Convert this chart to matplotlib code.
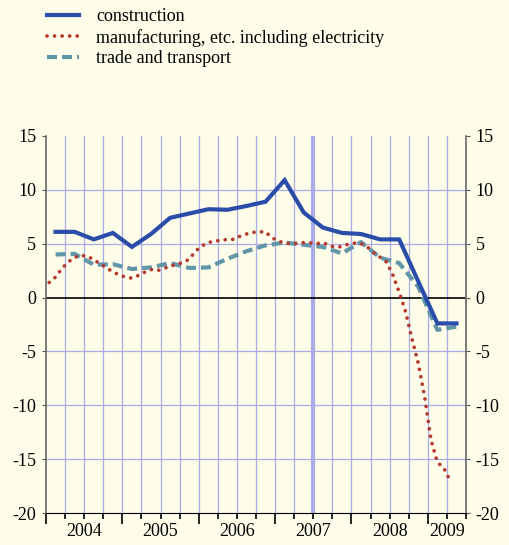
import numpy as np
import matplotlib
matplotlib.use('Agg')
import matplotlib.pyplot as plt
import matplotlib.transforms as mtransforms

plt.rcParams['font.family'] = ['Liberation Serif', 'DejaVu Serif']
plt.rcParams['axes.unicode_minus'] = False

# quarterly series, 2004Q1 .. 2009Q2
construction = [6.1, 6.1, 5.4, 6.0, 4.7, 5.9, 7.4, 7.8, 8.2, 8.15, 8.5, 8.9,
                10.9, 7.9, 6.5, 6.0, 5.9, 5.4, 5.4, 1.5, -2.4, -2.4]
trade = [4.0, 4.05, 3.05, 3.1, 2.65, 2.8, 3.2, 2.75, 2.8, 3.6, 4.3, 4.85,
         5.1, 4.9, 4.7, 4.1, 5.15, 3.7, 3.2, 1.0, -3.0, -2.7]
# monthly series, Jan 2004 .. Apr 2009
manufacturing = [1.4, 1.9, 2.7, 3.3, 3.75, 3.9, 3.85, 3.5, 3.15, 2.75, 2.4, 2.1,
                 1.9, 1.8, 2.05, 2.35, 2.6, 2.5, 2.7, 2.9, 3.1, 3.25, 3.55, 4.3,
                 4.8, 5.1, 5.25, 5.3, 5.4, 5.4, 5.7, 5.9, 6.05, 6.1, 6.1, 5.55,
                 5.25, 5.05, 5.0, 5.05, 5.1, 5.08, 5.0, 5.1, 4.85, 4.65, 4.75, 4.95,
                 5.05, 5.0, 4.7, 4.15, 3.75, 3.3, 2.1, 0.5, -1.3, -3.8, -6.1, -9.2,
                 -13.2, -15.3, -15.8, -17.0]
years = ['2004', '2005', '2006', '2007', '2008', '2009']
year_centers = [2, 6, 10, 14, 18, 21]

bg = '#fefdea'
grid_c = '#a9abe6'

fig = plt.figure(figsize=(5.09, 5.45), dpi=100, facecolor=bg)
ax = fig.add_axes([0.0904, 0.0587, 0.8251, 0.6918], facecolor=bg)

xq = np.arange(len(construction)) + 0.5
xm = (np.arange(len(manufacturing)) + 0.5) / 3.0

# grid
for q in range(1, 22):
    ax.axvline(q, color=grid_c, lw=3.0 if q == 14 else 0.9, zorder=1)
for v in [10, 5, -5, -10, -15]:
    ax.axhline(v, color=grid_c, lw=0.9, zorder=1)
ax.axhline(0, color='black', lw=1.2, zorder=2)

l1, = ax.plot(xq, construction, color='#2b4daa', lw=3.0, solid_joinstyle='miter',
              zorder=5, label='construction')
l2, = ax.plot(xm, manufacturing, color='#b5392e', lw=2.7, linestyle=(0, (0.01, 2.0)),
              dash_capstyle='round', zorder=4,
              label='manufacturing, etc. including electricity')
l3, = ax.plot(xq, trade, color='#6296a9', lw=3.0, linestyle=(0, (2.4, 1.2)),
              zorder=3, label='trade and transport')

ax.set_xlim(0, 22)
ax.set_ylim(-20, 15)
ax.set_yticks([15, 10, 5, 0, -5, -10, -15, -20])
ax.set_yticklabels(['15', '10', '5', '0', '-5', '-10', '-15', '-20'])
ax.tick_params(axis='y', which='both', left=True, right=True, labelleft=True,
               labelright=True, length=3, color='#555555', labelsize=13, pad=4)

ax.set_xticks([0, 4, 8, 12, 16, 20])
ax.set_xticks(list(range(0, 23)), minor=True)
ax.set_xticklabels([])
ax.tick_params(axis='x', which='major', length=8, width=1.2, color='black')
ax.tick_params(axis='x', which='minor', length=4, width=1.2, color='black')

trans = mtransforms.blended_transform_factory(ax.transData, ax.transAxes)
for yc, lab in zip(year_centers, years):
    ax.text(yc, -0.05, lab, transform=trans, ha='center', va='center', fontsize=13)

ax.spines['top'].set_visible(False)
ax.spines['left'].set_color('#666666')
ax.spines['right'].set_color('#666666')
ax.spines['bottom'].set_color('black')
ax.spines['left'].set_linewidth(1.2)
ax.spines['right'].set_linewidth(1.2)

fig.legend(handles=[l1, l2, l3], loc='upper left', bbox_to_anchor=(0.077, 1.0),
           frameon=False, fontsize=13, handlelength=1.75, handletextpad=0.95,
           labelspacing=0.2, borderaxespad=0.05)

fig.savefig('out.png', dpi=100, facecolor=bg)
